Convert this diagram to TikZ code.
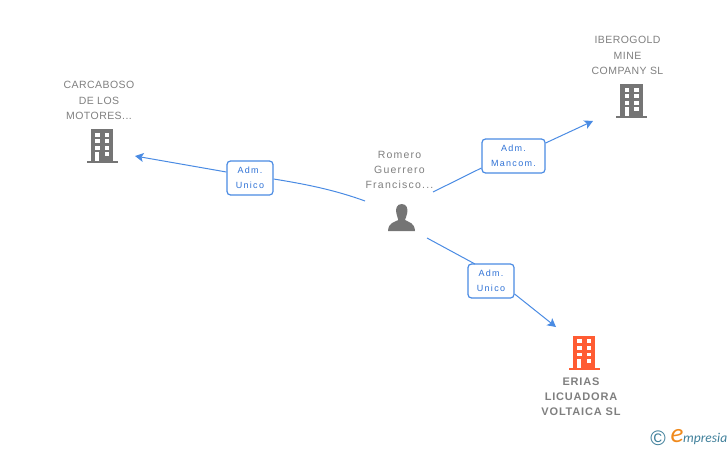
\documentclass[tikz,border=0pt]{standalone}
\usepackage{fontspec}
\setmainfont{Liberation Sans}
\newfontfamily\capfont[LetterSpace=4.2]{Liberation Sans}
\newfontfamily\namefont[LetterSpace=11.7]{Liberation Sans}
\newfontfamily\relfont[LetterSpace=14]{Liberation Sans}
\newfontfamily\boldspaced[LetterSpace=7.4]{Liberation Sans}
\newfontfamily\logofont{Carlito}
\usetikzlibrary{arrows.meta}
\definecolor{linkblue}{HTML}{4A8BE3}
\definecolor{labelblue}{HTML}{2F72D6}
\definecolor{icongray}{HTML}{757575}
\definecolor{textgray}{HTML}{7F7F7F}
\definecolor{bldorange}{HTML}{FF5C33}
\definecolor{logoteal}{HTML}{3F7F9A}
\definecolor{logoorange}{HTML}{F08A1D}
\tikzset{
  x=1pt,y=-1pt,
  conn/.style={draw=linkblue,line width=1pt},
  arrowconn/.style={conn,-{Stealth[length=8.5pt,width=9pt,inset=2pt]}},
  rel/.style={draw=linkblue,line width=1.2pt,rounded corners=3.5pt,fill=white,inner sep=0pt,
     align=center,text=labelblue,font=\relfont\fontsize{9}{15}\selectfont},
  captxt/.style={align=center,text=textgray,inner sep=0pt,font=\capfont\fontsize{10.5}{15.2}\selectfont},
  nametxt/.style={align=center,text=textgray,inner sep=0pt,font=\namefont\fontsize{10.5}{15.2}\selectfont},
  boldcap/.style={align=center,text=textgray,inner sep=0pt,font=\boldspaced\bfseries\fontsize{11}{15.2}\selectfont},
  pics/bld/.style={code={
    \fill[#1] (-11.3,-16.5) rectangle (11.3,15);
    \fill[#1] (-15.5,15) rectangle (15.7,17.5);
    \foreach \yy in {-13.2,-6.7,0}{
      \fill[white] (-6.8,\yy) rectangle (-2.4,\yy+3.9);
      \fill[white] (3,\yy) rectangle (7.3,\yy+3.9);
    }
    \fill[white] (-6.8,6.5) rectangle (-2.6,15);
    \fill[white] (3,6.5) rectangle (7.3,10.6);
  }},
}
\begin{document}
\begin{tikzpicture}
\useasboundingbox (0,0) rectangle (728,450);
% icons
\pic at (102,145.8) {bld=icongray};
\pic at (631.3,100.8) {bld=icongray};
\pic at (584,352.5) {bld=bldorange};
\fill[icongray] (401.7,204) .. controls (396.5,204) and (395.5,209) .. (396.3,213)
  .. controls (396.8,216) and (398,218) .. (398.3,220)
  .. controls (394,222.5) and (388.5,222.5) .. (388,231) -- (415,231)
  .. controls (414.5,222.5) and (409,222.5) .. (405,220)
  .. controls (405.5,218) and (406.8,216) .. (407.2,213)
  .. controls (408,209) and (407,204) .. (401.7,204) -- cycle;
% captions
\node[captxt] (carcaboso) at (99,100.5) {CARCABOSO\\DE LOS\\MOTORES...};
\node[captxt] (iberogold) at (627.5,55.5) {IBEROGOLD\\MINE\\COMPANY SL};
\node[nametxt] (romero) at (399.5,170) {Romero\\Guerrero\\Francisco...};
\node[boldcap] (erias) at (581,396.5) {ERIAS\\LICUADORA\\VOLTAICA SL};
% relation labels
\node[rel,minimum width=46pt,minimum height=34pt] (r1) at (250,178) {Adm.\\Unico};
\node[rel,minimum width=63pt,minimum height=34pt] (r2) at (513.5,156) {Adm.\\Mancom.};
\node[rel,minimum width=46pt,minimum height=34pt] (r3) at (491,281) {Adm.\\Unico};
% anchors for connector ends
\coordinate (p1) at (365,201);
\coordinate (p2) at (433,192);
\coordinate (p3) at (427,238);
\coordinate (t1) at (135,156);
\coordinate (t2) at (593,121);
\coordinate (t3) at (556,327);
% connectors
\draw[conn] (p1) .. controls (335,190) and (305,184) .. (r1.east |- 0,179);
\draw[arrowconn] (r1.west |- 0,172) -- (t1);
\draw[conn] (p2) -- (r2.west |- 0,168);
\draw[arrowconn] (r2.east |- 0,143) -- (t2);
\draw[conn] (p3) -- (475,264);
\draw[arrowconn] (r3.east |- 0,294) -- (t3);
% logo
\node[text=logoteal,inner sep=0pt,font=\fontsize{21}{21}\selectfont] (copy) at (658,438.5) {\textcopyright};
\node[text=logoorange,inner sep=0pt,font=\logofont\itshape\fontsize{27}{27}\selectfont] (logoe) at (677,436.5) {e};
\node[text=logoteal,inner sep=0pt,anchor=west,font=\logofont\itshape\fontsize{13.5}{14}\selectfont] (logot) at (683,438.5) {mpresia};
\end{tikzpicture}
\end{document}
